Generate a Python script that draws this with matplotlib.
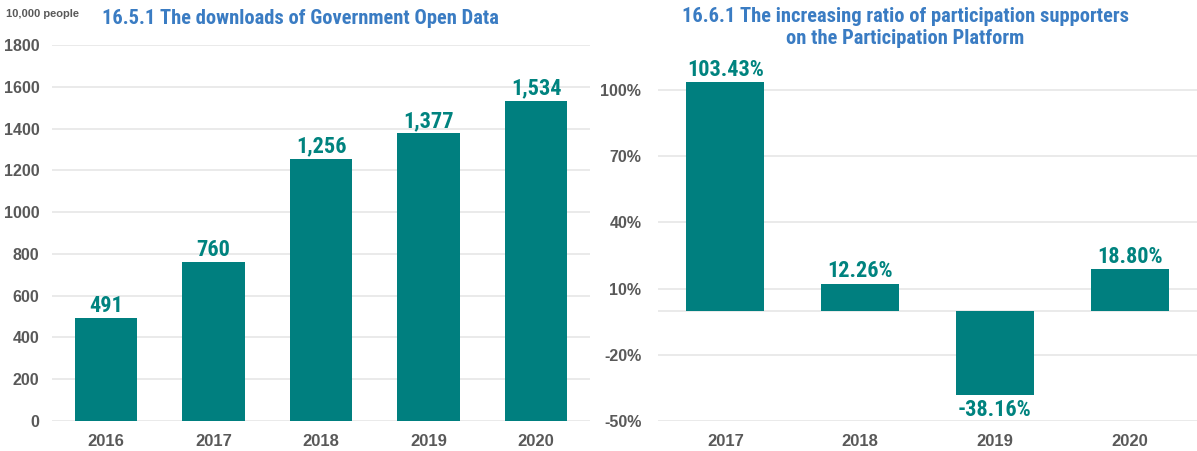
import matplotlib
matplotlib.use("Agg")
import matplotlib.pyplot as plt
import numpy as np

# downloads of government open data (unit: 10,000 people)
dl_years = ["2016", "2017", "2018", "2019", "2020"]
dl_values = [491, 760, 1256, 1377, 1534]

# increasing ratio of participation supporters (%)
ratio_years = ["2017", "2018", "2019", "2020"]
ratio_values = [103.43, 12.26, -38.16, 18.80]
ratio_ticks = [-50, -20, 10, 40, 70, 100]

teal = "#007F7F"
label_teal = "#00837F"
title_blue = "#3A7CC3"
tick_gray = "#595959"
grid_gray = "#E8E8E8"
narrow = ["Roboto Condensed", "DejaVu Sans"]
regular = ["Liberation Sans", "DejaVu Sans"]

W, H = 1197, 451
fig = plt.figure(figsize=(W / 100, H / 100), dpi=100)


def px_axes(left, top, right, bottom):
    # axes placed by pixel edges
    return fig.add_axes([left / W, 1 - bottom / H, (right - left) / W, (bottom - top) / H])


def style_axes(ax, ypad):
    for s in ax.spines.values():
        s.set_visible(False)
    ax.tick_params(axis="both", length=0, labelcolor=tick_gray)
    ax.tick_params(axis="x", pad=9, labelsize=12)
    ax.tick_params(axis="y", pad=ypad, labelsize=11.5)
    for lab in ax.get_xticklabels() + ax.get_yticklabels():
        lab.set_fontfamily(regular)
        lab.set_fontweight("bold")
    ax.grid(axis="y", color=grid_gray, linewidth=1.3)
    ax.set_axisbelow(True)


# left chart
ax1 = px_axes(52, 45, 590, 421)
x1 = np.arange(len(dl_years))
ax1.bar(x1, dl_values, width=0.58, color=teal)
ax1.set_xlim(-0.5, len(dl_years) - 0.5)
ax1.set_ylim(0, 1800)
ax1.set_yticks(np.arange(0, 1801, 200))
ax1.set_xticks(x1)
ax1.set_xticklabels(dl_years)
style_axes(ax1, 9)
for xi, v in zip(x1, dl_values):
    ax1.annotate(f"{v:,}", (xi, v), xytext=(0, 1), textcoords="offset points",
                 ha="center", va="bottom", color=label_teal, fontsize=16,
                 fontweight="bold", family=narrow)
fig.text(6 / W, 1 - 14 / H, "10,000 people", ha="left", va="center",
         fontsize=8, color=tick_gray, fontweight="bold", family=regular)
fig.text(300 / W, 1 - 19 / H, "16.5.1 The downloads of Government Open Data",
         ha="center", va="center", fontsize=14.8, color=title_blue,
         fontweight="bold", family=narrow)

# right chart
ax2 = px_axes(658, 45, 1197, 421)
x2 = np.arange(len(ratio_years))
ax2.bar(x2, ratio_values, width=0.58, color=teal)
ax2.set_xlim(-0.5, len(ratio_years) - 0.5)
ax2.set_ylim(-50, 120.4)
ax2.set_yticks(ratio_ticks)
ax2.set_yticklabels([f"{t}%" for t in ratio_ticks])
ax2.set_xticks(x2)
ax2.set_xticklabels(ratio_years)
style_axes(ax2, 12)
ax2.axhline(0, color=grid_gray, linewidth=1.3, zorder=0)
for xi, v in zip(x2, ratio_values):
    if v >= 0:
        ax2.annotate(f"{v:.2f}%", (xi, v), xytext=(0, 1), textcoords="offset points",
                     ha="center", va="bottom", color=label_teal, fontsize=16,
                     fontweight="bold", family=narrow)
    else:
        ax2.annotate(f"{v:.2f}%", (xi, v), xytext=(0, -3), textcoords="offset points",
                     ha="center", va="top", color=label_teal, fontsize=16,
                     fontweight="bold", family=narrow)
fig.text(905 / W, 1 - 17 / H, "16.6.1 The increasing ratio of participation supporters",
         ha="center", va="center", fontsize=14.8, color=title_blue,
         fontweight="bold", family=narrow)
fig.text(905 / W, 1 - 39 / H, "on the Participation Platform",
         ha="center", va="center", fontsize=14.8, color=title_blue,
         fontweight="bold", family=narrow)

fig.savefig("out.png", dpi=100)
